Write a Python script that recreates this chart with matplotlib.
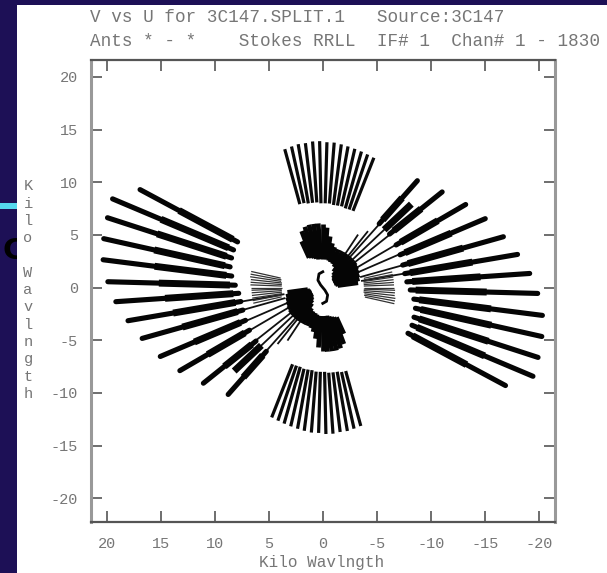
import numpy as np
import matplotlib
matplotlib.use("Agg")
import matplotlib.pyplot as plt
from matplotlib.patches import Rectangle

# long arm spokes: position angle (deg), inner and outer radius (kilo-wavelength)
arm_pa = [130.8, 140.6, 149.2, 156.5, 163.9, 170.1, 176.0, 181.6, 187.4, 192.9, 198.4, 203.4, 208.8]
arm_rin = [8.0, 8.0, 7.9, 7.8, 7.7, 7.7, 7.8, 8.1, 8.5, 8.8, 8.9, 9.0, 9.0]
arm_rout = [13.4, 14.3, 15.4, 16.4, 17.4, 18.3, 19.2, 19.9, 20.5, 20.8, 21.0, 21.2, 19.3]

# short extra spoke next to the first one
extra_pa = [136.0]
extra_rin = [7.9]
extra_rout = [11.4]

# faint inner continuations of the arm spokes
thin_pa = [123, 128, 131, 136, 141, 149, 156, 164, 170]
thin_rin = [3.4, 3.4, 3.4, 3.4, 3.5, 3.6, 3.6, 3.6, 3.6]
thin_rout = [6.0, 6.8, 8.0, 8.0, 8.0, 7.9, 7.8, 7.7, 7.7]

# north arm spokes (top / bottom fans)
north_pa = [75.0, 77.8, 80.5, 83.3, 86.1, 88.8, 91.6, 94.4, 97.2, 99.9, 102.7, 105.5, 108.2, 111.0]
north_rin = [8.2, 8.2, 8.1, 8.1, 8.1, 8.0, 8.0, 8.0, 7.9, 7.9, 7.9, 7.8, 7.8, 7.8]
north_rout = [13.6, 13.7, 13.8, 13.8, 13.9, 13.9, 13.8, 13.8, 13.7, 13.6, 13.5, 13.4, 13.3, 13.2]

# medium baselines, light fan
mid_pa = [167.0, 169.2, 171.3, 173.5, 175.7, 177.8, 180.0, 182.2, 184.3, 186.5, 188.7, 190.8, 193.0]
mid_rin = [3.9, 3.9, 3.8, 3.8, 3.8, 3.8, 3.8, 3.8, 3.8, 3.8, 3.9, 3.9, 4.0]
mid_rout = [6.6, 6.6, 6.6, 6.6, 6.6, 6.6, 6.6, 6.7, 6.7, 6.7, 6.8, 6.8, 6.8]

# short baselines, dense fan around the centre
core_pa = [172, 166, 160, 154, 148, 142, 136, 130, 124, 118, 112, 106, 102, 98, 94, 90, 86, 82, 78, 74, 70, 66]
core_rin = [1.4, 1.2, 1.1, 1.1, 1.1, 1.2, 1.3, 1.5, 1.8, 2.2, 2.4, 2.5, 2.6, 2.7, 2.7, 2.7, 2.7, 2.7, 2.8, 2.9, 3.0, 3.1]
core_rout = [3.3, 3.5, 3.6, 3.7, 3.8, 3.9, 3.9, 3.9, 3.9, 3.9, 3.9, 4.0, 4.3, 4.9, 5.7, 6.0, 6.1, 6.1, 6.1, 6.0, 5.7, 4.8]

# shortest baseline track (half, the other half is its conjugate)
short_u = [0.0, 0.35, 0.45, 0.2, 0.0]
short_v = [1.5, 1.3, 0.7, 0.25, 0.0]

xticks = [20, 15, 10, 5, 0, -5, -10, -15, -20]
yticks = [20, 15, 10, 5, 0, -5, -10, -15, -20]

W, H = 607, 573
grey = "#767676"
mono = "Liberation Mono"


def spoke(ax, pa, r1, r2, **kw):
    t = np.radians(pa)
    u = np.array([r1, r2]) * np.cos(t)
    v = np.array([r1, r2]) * np.sin(t)
    ax.plot(u, v, **kw)
    ax.plot(-u, -v, **kw)   # conjugate visibility


fig = plt.figure(figsize=(W / 100, H / 100), dpi=100, facecolor="#1d1056")

# slide background bits
fig.text(2 / W, 1 - 251 / H, "C", fontsize=21, fontweight="bold", color="black",
         ha="left", va="center", zorder=-3)
fig.patches.append(Rectangle((0, 1 - 209 / H), 16.5 / W, 6 / H, transform=fig.transFigure,
                             facecolor="#55d8ee", edgecolor="none", zorder=-3))
fig.patches.append(Rectangle((16.5 / W, 0), 1, 1 - 4.5 / H, transform=fig.transFigure,
                             facecolor="white", edgecolor="none", zorder=-2))

ax = fig.add_axes([90.5 / W, 1 - 522 / H, 464 / W, 462 / H])
ax.set_facecolor("none")

for p, a, b in zip(thin_pa, thin_rin, thin_rout):
    spoke(ax, p, a, b, color="#111111", lw=1.3, solid_capstyle="butt")

for p, a, b in zip(mid_pa, mid_rin, mid_rout):
    spoke(ax, p, a, b, color="#333333", lw=0.9, solid_capstyle="butt")

for p, a, b in zip(north_pa, north_rin, north_rout):
    spoke(ax, p, a, b, color="#0a0a0a", lw=2.3, solid_capstyle="butt")

for p, a, b in zip(arm_pa, arm_rin, arm_rout):
    spoke(ax, p, a, b, color="#050505", lw=3.7, solid_capstyle="round")
    spoke(ax, p, a + 0.5, a + 0.6 * (b - a), color="#050505", lw=5.0, solid_capstyle="butt")

for p, a, b in zip(extra_pa, extra_rin, extra_rout):
    spoke(ax, p, a, b, color="#050505", lw=5.0, solid_capstyle="butt")

for p, a, b in zip(core_pa, core_rin, core_rout):
    spoke(ax, p, a, b, color="#050505", lw=3.4, solid_capstyle="butt")

su = short_u + [-x for x in reversed(short_u[:-1])]
sv = short_v + [-y for y in reversed(short_v[:-1])]
ax.plot(su, sv, color="#050505", lw=2.0)

ax.set_xlim(21.5, -21.45)
ax.set_ylim(-22.25, 21.6)
ax.set_xticks(xticks)
ax.set_yticks(yticks)
ax.set_xticklabels([str(t) for t in xticks], fontfamily=mono, fontsize=11, color=grey)
ax.set_yticklabels([str(t) for t in yticks], fontfamily=mono, fontsize=11, color=grey)
ax.tick_params(axis="both", direction="in", length=8, width=1.2, colors="#555555",
               top=True, right=True)
ax.tick_params(axis="x", pad=10.5, labelcolor=grey)
ax.tick_params(axis="y", pad=9, labelcolor=grey)
for side in ["top", "bottom"]:
    ax.spines[side].set_color("#555555")
    ax.spines[side].set_linewidth(1.6)
for side in ["left", "right"]:
    ax.spines[side].set_color("#999999")
    ax.spines[side].set_linewidth(2.2)

# headers
fig.text(90 / W, 1 - 17 / H, "V vs U for 3C147.SPLIT.1   Source:3C147", fontfamily=mono,
         fontsize=12.7, color=grey, ha="left", va="center")
fig.text(90 / W, 1 - 42 / H, "Ants * - *    Stokes RRLL  IF# 1  Chan# 1 - 1830", fontfamily=mono,
         fontsize=12.7, color=grey, ha="left", va="center")

# axis labels
fig.text(322 / W, 1 - 562 / H, "Kilo Wavlngth", fontfamily=mono, fontsize=11.5,
         color=grey, ha="center", va="center")
fig.text(28 / W, 1 - 290 / H, "\n".join("Kilo Wavlngth"), fontfamily=mono, fontsize=11,
         color=grey, ha="center", va="center", linespacing=1.3)

fig.savefig("out.png", dpi=100, facecolor=fig.get_facecolor())
